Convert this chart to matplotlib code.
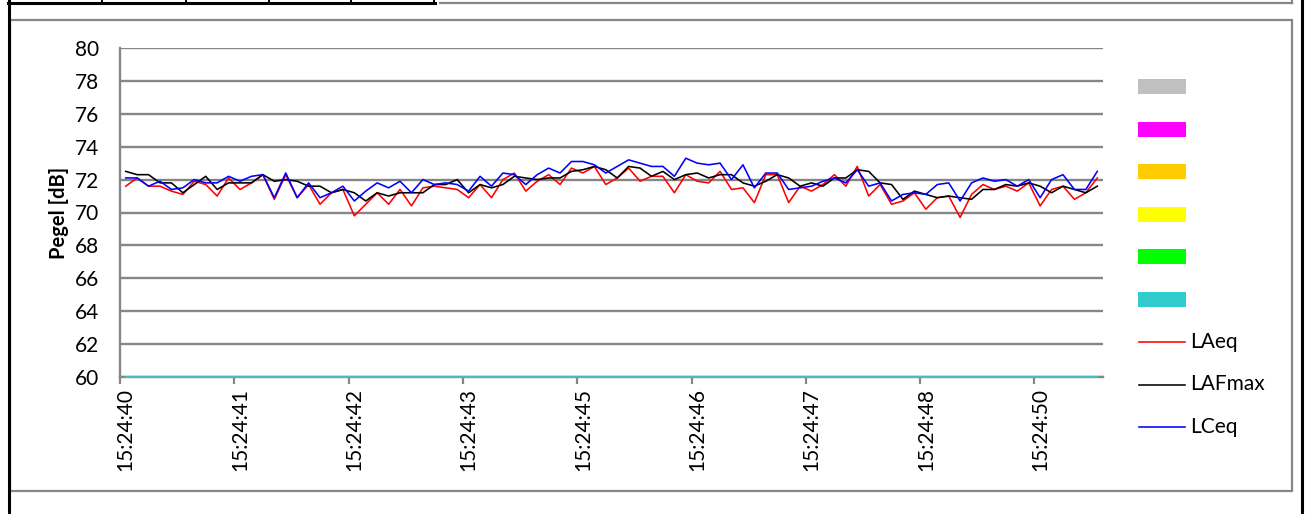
import matplotlib
matplotlib.use("Agg")
import matplotlib.pyplot as plt
from matplotlib.lines import Line2D
from matplotlib.patches import Rectangle

plt.rcParams['font.family'] = ['Lato', 'DejaVu Sans']

W, H = 1306, 514

# Messwerte (dB), ein Wert pro Kategorie
laeq = [71.6, 72.1, 71.6, 71.6, 71.3, 71.1, 71.9, 71.7, 71.0, 72.1, 71.4, 71.8, 72.3, 70.8, 72.3, 70.9,
        71.7, 70.5, 71.2, 71.4, 69.8, 70.5, 71.2, 70.5, 71.4, 70.4, 71.5, 71.6, 71.5,
        71.4, 70.9, 71.7, 70.9, 72.0, 72.4, 71.3, 71.9, 72.3, 71.7, 72.7, 72.4, 72.8, 71.7, 72.1,
        72.7, 71.9, 72.2, 72.2, 71.2, 72.3, 71.9, 71.8, 72.5, 71.4, 71.5, 70.6, 72.3, 72.3,
        70.6, 71.6, 71.3, 71.7, 72.3, 71.6, 72.8, 71.0, 71.7, 70.5, 70.7, 71.2, 70.2, 70.9,
        71.0, 69.7, 71.1, 71.7, 71.4, 71.6, 71.3, 71.8, 70.4, 71.4, 71.6, 70.8, 71.2, 72.1]
lafmax = [72.5, 72.3, 72.3, 71.8, 71.8, 71.2, 71.7, 72.2, 71.4, 71.8, 71.8, 71.8, 72.3, 71.9, 72.0, 71.9,
          71.6, 71.6, 71.2, 71.4, 71.2, 70.7, 71.2, 71.0, 71.2, 71.2, 71.2, 71.7, 71.7,
          72.0, 71.2, 71.7, 71.5, 71.7, 72.2, 72.1, 72.0, 72.1, 72.1, 72.5, 72.6, 72.8, 72.6, 72.1,
          72.8, 72.7, 72.2, 72.5, 72.0, 72.3, 72.4, 72.1, 72.3, 72.3, 71.8, 71.6, 71.9, 72.3,
          72.1, 71.6, 71.8, 71.6, 72.1, 72.1, 72.6, 72.5, 71.8, 71.7, 70.8, 71.3, 71.1, 70.9,
          71.0, 70.9, 70.8, 71.4, 71.4, 71.7, 71.6, 71.8, 71.6, 71.2, 71.6, 71.4, 71.2, 71.6]
lceq = [72.1, 72.1, 71.6, 71.9, 71.4, 71.5, 72.0, 71.8, 71.8, 72.2, 71.9, 72.2, 72.3, 70.9, 72.4, 70.9,
        71.8, 70.9, 71.2, 71.6, 70.7, 71.3, 71.8, 71.5, 71.9, 71.2, 72.0, 71.7, 71.8,
        71.7, 71.3, 72.2, 71.6, 72.4, 72.3, 71.7, 72.3, 72.7, 72.4, 73.1, 73.1, 72.9, 72.4, 72.8,
        73.2, 73.0, 72.8, 72.8, 72.2, 73.3, 73.0, 72.9, 73.0, 72.0, 72.9, 71.5, 72.4, 72.4,
        71.4, 71.5, 71.6, 71.9, 72.1, 71.8, 72.6, 71.6, 71.8, 70.7, 71.1, 71.2, 71.1, 71.7,
        71.8, 70.7, 71.8, 72.1, 71.9, 72.0, 71.6, 72.0, 70.9, 72.0, 72.3, 71.4, 71.4, 72.5]
# unbelegte Baender liegen auf der Achse
band_floor = [60.0] * len(laeq)

time_labels = ["15:24:40", "15:24:41", "15:24:42", "15:24:43", "15:24:45",
               "15:24:46", "15:24:47", "15:24:48", "15:24:50"]
label_every = 10

band_colors = ["#C0C0C0", "#FF00FF", "#FFCC00", "#FFFF00", "#00FF00", "#33CCCC"]
series = [("LAeq", laeq, "#FF0000"), ("LAFmax", lafmax, "#000000"), ("LCeq", lceq, "#0000FF")]

GRID = "#868686"


def fx(x):
    return x / W


def fy(y):
    return 1 - y / H


fig = plt.figure(figsize=(W / 100, H / 100), dpi=100)

# plot area in pixels: left 120, right 1103, top 48, bottom 377
ax = fig.add_axes([fx(120), fy(377), (1103 - 120) / W, (377 - 48) / H])

n = len(laeq)
x = list(range(n))
ax.plot(x, band_floor, color="#33CCCC", lw=1.2, zorder=4, clip_on=False)
for name, vals, col in series:
    ax.plot(x, vals, color=col, lw=1.15, zorder=5)

ax.set_xlim(-0.5, n - 0.5)
ax.set_ylim(60, 80)
ax.set_yticks(range(60, 81, 2))
ax.grid(axis="y", color=GRID, lw=1.7)
ax.set_axisbelow(True)

for s in ["top", "right"]:
    ax.spines[s].set_visible(False)
for s in ["left", "bottom"]:
    ax.spines[s].set_color(GRID)
    ax.spines[s].set_linewidth(1.7)

# tick marks on category boundaries, labels on category centres
ax.set_xticks([i - 0.5 for i in range(0, n, label_every)])
ax.set_xticklabels([])
ax.tick_params(axis="x", which="major", direction="out", length=5, width=1.6, color=GRID)
ax.set_xticks(list(range(0, n, label_every)), minor=True)
ax.set_xticklabels(time_labels, minor=True, rotation=90, fontsize=15)
ax.tick_params(axis="x", which="minor", length=0, pad=8)
ax.tick_params(axis="y", length=0, labelsize=15, pad=15)

ax.set_ylabel("Pegel [dB]", fontsize=14.5, fontweight="bold", labelpad=4)

# legend at the right side
for k, c in enumerate(band_colors):
    yc = 86.5 + k * 42.6
    fig.add_artist(Rectangle((fx(1138), fy(yc + 7.5)), 48 / W, 15 / H,
                             transform=fig.transFigure, facecolor=c, edgecolor="none"))
for k, (name, vals, col) in enumerate(series):
    yc = 342 + k * 42.5
    fig.add_artist(Line2D([fx(1139), fx(1185)], [fy(yc), fy(yc)], transform=fig.transFigure,
                          color=col, lw=1.15))
    fig.text(fx(1190), fy(yc), name, fontsize=15, va="center", ha="left")

# chart frame and surrounding sheet borders
fig.add_artist(Rectangle((fx(10), fy(491)), (1292 - 10) / W, (491 - 20) / H,
                         transform=fig.transFigure, fill=False, edgecolor=GRID, lw=1.6))
fig.add_artist(Line2D([fx(8.5), fx(8.5)], [0, 1], transform=fig.transFigure, color="black", lw=2.2))
fig.add_artist(Line2D([fx(1302), fx(1302)], [0, 1], transform=fig.transFigure, color="black", lw=2.2))
fig.add_artist(Line2D([fx(8), fx(435)], [fy(3), fy(3)], transform=fig.transFigure, color="black", lw=2.2))
for xd in [102, 186, 269, 351, 434]:
    fig.add_artist(Line2D([fx(xd), fx(xd)], [fy(3), 1], transform=fig.transFigure, color="black", lw=1.4))
fig.add_artist(Line2D([fx(440), fx(1292)], [fy(3), fy(3)], transform=fig.transFigure, color=GRID, lw=1.6))
fig.add_artist(Line2D([fx(1292), fx(1292)], [fy(3), 1], transform=fig.transFigure, color=GRID, lw=1.6))

fig.savefig("out.png", dpi=100, facecolor="white")
